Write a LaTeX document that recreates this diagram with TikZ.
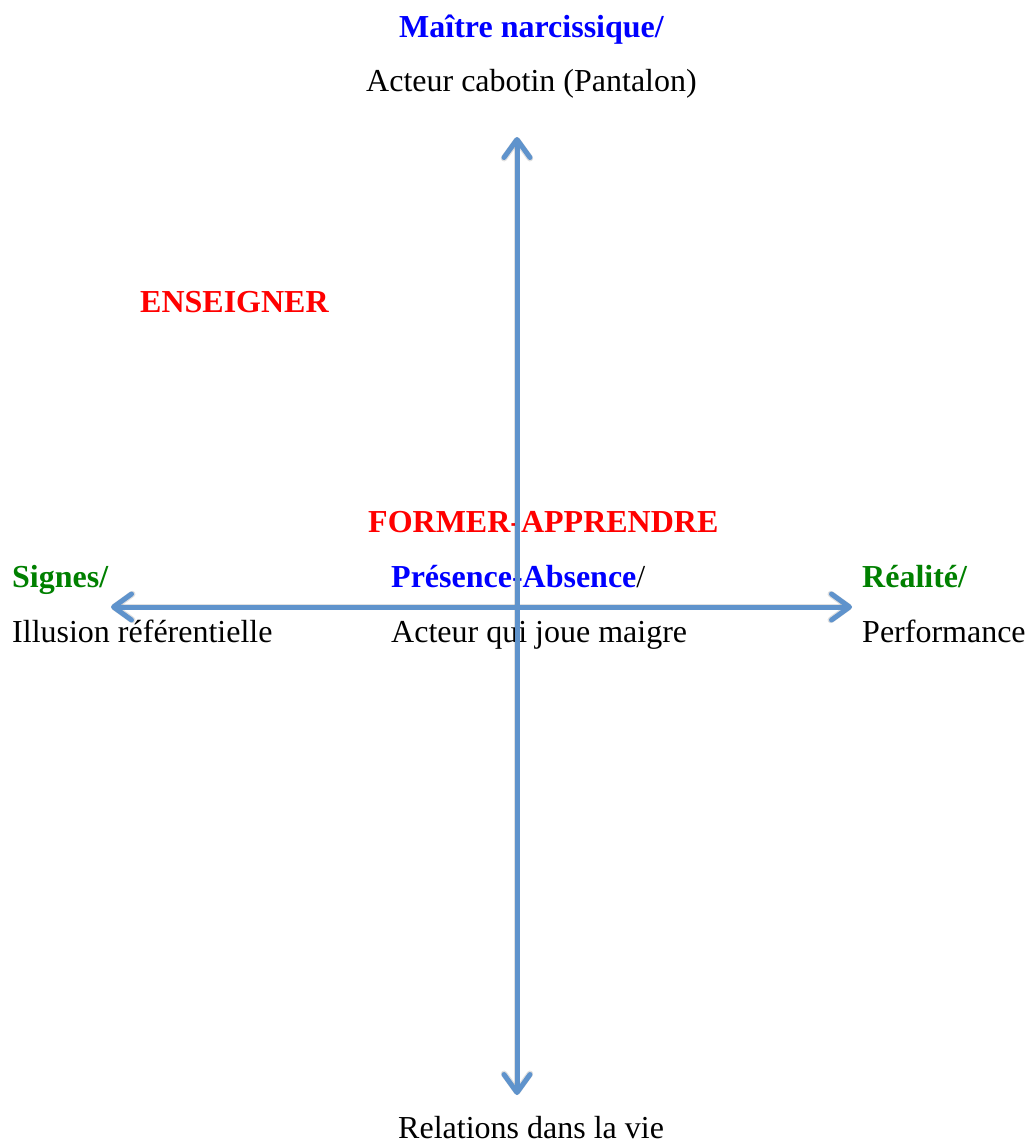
\documentclass[tikz,border=0pt]{standalone}
\usepackage{fontspec}
\setmainfont{Liberation Serif}
\usetikzlibrary{arrows.meta}
\definecolor{axisblue}{RGB}{95,147,204}
\definecolor{tblue}{RGB}{0,0,255}
\definecolor{tred}{RGB}{255,0,0}
\definecolor{tgreen}{RGB}{0,128,0}
\begin{document}
\begin{tikzpicture}[x=1pt,y=-1pt,
  lbl/.style={inner sep=0pt,anchor=base west,font=\fontsize{32}{38}\selectfont},
  axis/.style={draw=axisblue,line width=5pt,arrows={Straight Barb[length=18pt,width=26pt,round]-Straight Barb[length=18pt,width=26pt,round]}},
  axisshadow/.style={draw=black,opacity=0.12,line width=6.5pt,arrows={Straight Barb[length=18pt,width=26pt,round]-Straight Barb[length=18pt,width=26pt,round]}}]
\useasboundingbox (0,0) rectangle (1036,1146);

% labels
\node[lbl] (top1) at (399,37) {\bfseries\color{tblue}Maître narcissique/};
\node[lbl] (top2) at (366,91) {Acteur cabotin (Pantalon)};
\node[lbl] (ens) at (140,312) {\bfseries\color{tred}ENSEIGNER};
\node[lbl] (form) at (368,532) {\bfseries\color{tred}FORMER-APPRENDRE};
\node[lbl] (sig1) at (12,587) {\bfseries\color{tgreen}Signes/};
\node[lbl] (sig2) at (12,642) {Illusion référentielle};
\node[lbl] (pre1) at (391,587) {{\bfseries\color{tblue}Présence-Absence}/};
\node[lbl] (pre2) at (391,642) {Acteur qui joue maigre};
\node[lbl] (rea1) at (862,587) {\bfseries\color{tgreen}Réalité/};
\node[lbl] (rea2) at (862,642) {Performance};
\node[lbl] (bot) at (398,1138) {Relations dans la vie};

% axis end points
\coordinate (L) at (111,607);
\coordinate (R) at (852,607);
\coordinate (T) at (517,137);
\coordinate (B) at (517,1095);

% soft shadows
\begin{scope}[shift={(1.5,2.5)}]
  \draw[axisshadow] (L) -- (R);
  \draw[axisshadow] (T) -- (B);
\end{scope}

% axes
\draw[axis] (L) -- (R);
\draw[axis] (T) -- (B);
\end{tikzpicture}
\end{document}
